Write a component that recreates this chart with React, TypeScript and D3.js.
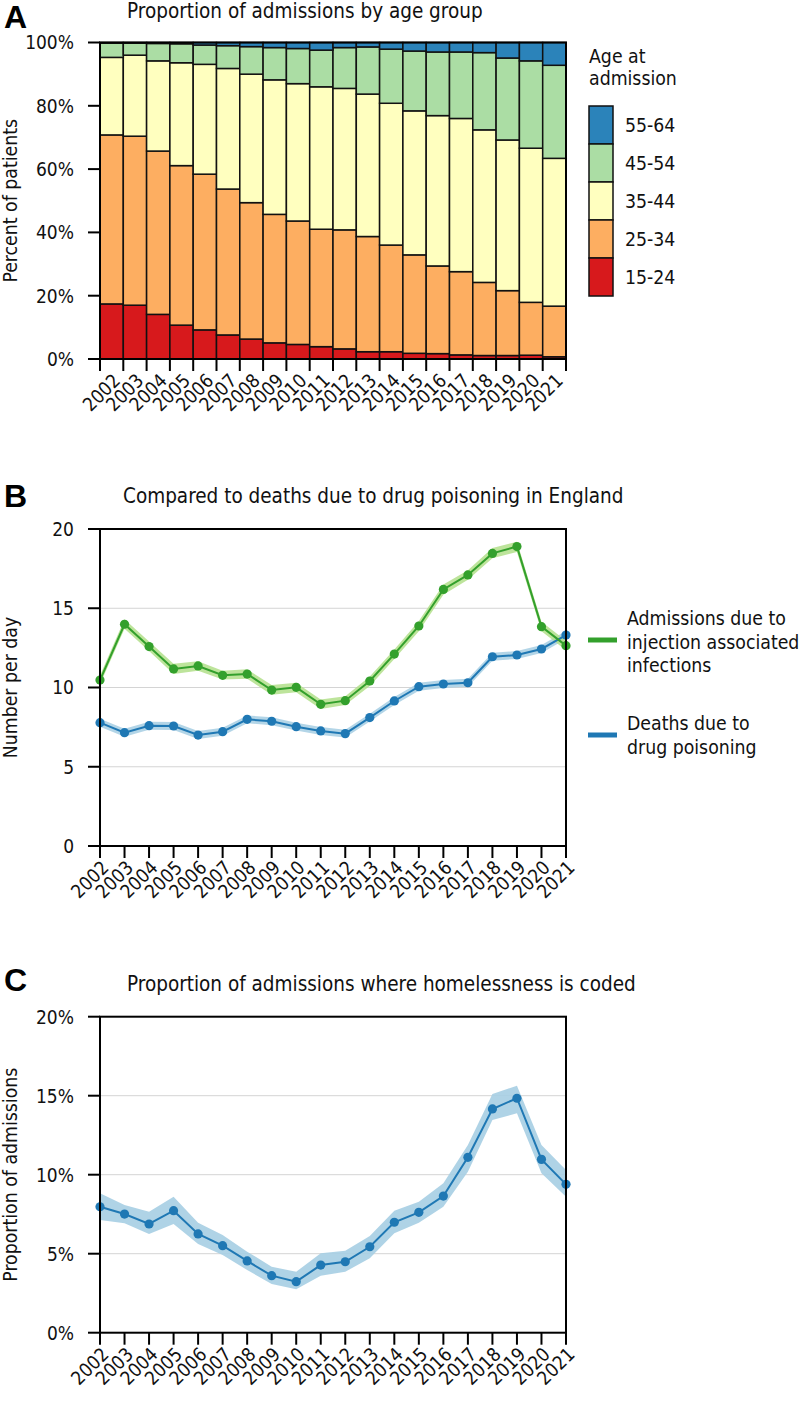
import React from "react";
import * as d3 from "d3";

const years = ["2002","2003","2004","2005","2006","2007","2008","2009","2010","2011","2012","2013","2014","2015","2016","2017","2018","2019","2020","2021"];

// Panel A: percent of admissions per age group
const ageGroups = ["15-24","25-34","35-44","45-54","55-64"];
const age15_24 = [17.4,17.0,14.1,10.7,9.2,7.6,6.3,5.1,4.6,3.9,3.2,2.3,2.3,1.8,1.7,1.3,1.1,1.1,1.2,0.7];
const age25_34 = [53.4,53.4,51.6,50.4,49.2,46.1,43.1,40.6,39.0,37.1,37.6,36.4,33.7,31.1,27.7,26.3,23.1,20.5,16.7,16.0];
const age35_44 = [24.5,25.6,28.5,32.5,34.7,38.1,40.6,42.5,43.4,45.0,44.7,45.0,44.8,45.5,47.5,48.4,48.2,47.6,48.7,46.7];
const age45_54 = [4.5,3.8,5.5,6.0,6.1,7.2,8.7,10.2,11.1,11.6,12.9,14.9,17.1,18.9,20.1,21.0,24.4,25.9,27.6,29.4];
const age55_64 = [0.2,0.2,0.3,0.4,0.8,1.0,1.3,1.6,1.9,2.4,1.6,1.4,2.1,2.7,3.0,3.0,3.2,4.9,5.8,7.2];
const ageColors = ["#d7191c","#fdae61","#ffffbf","#abdda4","#2b83ba"];
const pctTicks = [0,20,40,60,80,100];

// Panel B: number per day
const admissions = [10.47,13.99,12.58,11.17,11.36,10.77,10.85,9.84,10.01,8.94,9.17,10.41,12.11,13.88,16.19,17.1,18.46,18.89,13.84,12.64];
const admissionsLo = [10.2,13.7,12.3,10.85,11.05,10.5,10.55,9.55,9.7,8.65,8.9,10.1,11.8,13.55,15.85,16.8,18.15,18.55,13.55,12.35];
const admissionsHi = [10.75,14.3,12.9,11.5,11.65,11.05,11.15,10.15,10.3,9.25,9.45,10.7,12.4,14.2,16.5,17.4,18.8,19.2,14.15,12.95];
const deaths = [7.78,7.15,7.59,7.57,7.0,7.21,7.99,7.87,7.53,7.26,7.09,8.10,9.15,10.05,10.22,10.3,11.94,12.05,12.43,13.31];
const deathsLo = [7.53,6.9,7.34,7.32,6.75,6.96,7.74,7.62,7.28,7.01,6.84,7.85,8.9,9.8,9.97,10.05,11.69,11.8,12.18,13.06];
const deathsHi = [8.03,7.4,7.84,7.82,7.25,7.46,8.24,8.12,7.78,7.51,7.34,8.35,9.4,10.3,10.47,10.55,12.19,12.3,12.68,13.56];
const bTicks = [0,5,10,15,20];

// Panel C: proportion homelessness coded (%)
const homeless = [7.97,7.51,6.88,7.72,6.25,5.51,4.54,3.61,3.23,4.28,4.49,5.44,6.99,7.62,8.65,11.1,14.16,14.84,10.97,9.39];
const homelessLo = [7.13,6.92,6.25,6.88,5.61,4.92,3.97,3.08,2.75,3.61,3.86,4.71,6.29,6.96,7.97,10.19,13.46,13.89,10.09,8.61];
const homelessHi = [8.82,8.08,7.66,8.61,6.96,6.18,5.13,4.18,3.86,5.03,5.19,6.12,7.72,8.29,9.46,11.88,15.1,15.63,11.88,10.3];
const cTicks = [0,5,10,15,20];

const FONT = "'DejaVu Sans Condensed', 'DejaVu Sans', Verdana, sans-serif";
const TS: any = { fontStretch: "condensed" };
const GREEN = "#33a02c";
const GREEN_L = "#b2df8a";
const BLUE = "#1f78b4";
const BLUE_L = "#a6cee3";

const X0 = 100;
const X1 = 566;
const TICK = 12;
const FS_TICK = 19;
const FS_TEXT = 19.3;
const FS_TITLE = 20.5;

function YAxis({ scale, ticks, fmt, x0, x1, grid }: any) {
  return (
    <g>
      {grid && ticks.map((t: number) => (
        <line key={"g" + t} x1={x0} x2={x1} y1={scale(t)} y2={scale(t)} stroke="#d4d4d4" strokeWidth={1} />
      ))}
      {ticks.map((t: number) => (
        <g key={t}>
          <line x1={x0 - TICK} x2={x0} y1={scale(t)} y2={scale(t)} stroke="#000" strokeWidth={2} />
          <text x={x0 - 26} y={scale(t)} dy="0.36em" textAnchor="end" fontSize={FS_TICK} fontFamily={FONT} style={TS} fill="#111">{fmt(t)}</text>
        </g>
      ))}
    </g>
  );
}

function XLabels({ positions, labels, yBase, tickPositions }: any) {
  return (
    <g>
      {tickPositions.map((x: number, i: number) => (
        <line key={"t" + i} x1={x} x2={x} y1={yBase} y2={yBase + TICK} stroke="#000" strokeWidth={2} />
      ))}
      {labels.map((l: string, i: number) => (
        <text key={l} transform={`translate(${positions[i] + 5},${yBase + 18}) rotate(-45)`} textAnchor="end" dy="0.36em" fontSize={FS_TICK} fontFamily={FONT} style={TS} fill="#111">{l}</text>
      ))}
    </g>
  );
}

function Frame({ top, bottom }: any) {
  return (
    <rect x={X0} y={top} width={X1 - X0} height={bottom - top} fill="none" stroke="#000" strokeWidth={2} />
  );
}

function T(props: any) {
  return <text fontSize={FS_TEXT} fontFamily={FONT} style={TS} fill="#111" {...props} />;
}

export default function App() {
  // Panel A
  const aTop = 42.5, aBot = 359;
  const xA = d3.scaleBand().domain(years).range([X0, X1]).padding(0);
  const yA = d3.scaleLinear().domain([0, 100]).range([aBot, aTop]);
  const seriesArr = [age15_24, age25_34, age35_44, age45_54, age55_64];
  const rows = years.map((y, i) => {
    const r: any = { year: y };
    ageGroups.forEach((g, k) => (r[g] = seriesArr[k][i]));
    return r;
  });
  const stacked = d3.stack().keys(ageGroups)(rows as any);
  const aTickPos = [...years.map((y) => xA(y) as number), X1];

  // Panel B
  const bTop = 529, bBot = 846;
  const xP = d3.scalePoint().domain(years).range([X0, X1]);
  const yB = d3.scaleLinear().domain([0, 20]).range([bBot, bTop]);
  const lineB = d3.line<number>().x((_, i) => xP(years[i]) as number).y((d) => yB(d));
  const areaB = (lo: number[], hi: number[]) =>
    d3.area<number>().x((_, i) => xP(years[i]) as number).y0((_, i) => yB(lo[i])).y1((_, i) => yB(hi[i]))(lo) as string;

  // Panel C
  const cTop = 1016.7, cBot = 1332.7;
  const yC = d3.scaleLinear().domain([0, 20]).range([cBot, cTop]);
  const lineC = d3.line<number>().x((_, i) => xP(years[i]) as number).y((d) => yC(d));
  const areaC = d3.area<number>().x((_, i) => xP(years[i]) as number).y0((_, i) => yC(homelessLo[i])).y1((_, i) => yC(homelessHi[i]));

  const pointPos = years.map((y) => xP(y) as number);
  const legendBoxY = [106, 144, 182, 220, 258];
  const bold = "Liberation Sans, Arial, sans-serif";

  return (
    <svg width={800} height={1407} style={{ position: "absolute", left: 0, top: 0, background: "#fff" }}>
      <rect x={0} y={0} width={800} height={1407} fill="#fff" />
      {/* ---------- Panel A ---------- */}
      <text x={4} y={28} fontSize={32} fontWeight="bold" fontFamily={bold}>A</text>
      <T x={127} y={18} fontSize={FS_TITLE}>Proportion of admissions by age group</T>
      <T transform={`translate(17,${(aTop + aBot) / 2}) rotate(-90)`} textAnchor="middle">Percent of patients</T>
      {stacked.map((s, k) => (
        <g key={k}>
          {s.map((d, i) => (
            <rect key={i} x={xA(years[i])} y={yA(d[1])} width={xA.bandwidth()} height={Math.max(0, yA(d[0]) - yA(d[1]))} fill={ageColors[k]} stroke="#111" strokeWidth={1.5} />
          ))}
        </g>
      ))}
      <Frame top={aTop} bottom={aBot} />
      <YAxis scale={yA} ticks={pctTicks} fmt={(t: number) => `${t}%`} x0={X0} x1={X1} grid={false} />
      <XLabels positions={years.map((y) => (xA(y) as number) + xA.bandwidth() / 2)} labels={years} yBase={aBot} tickPositions={aTickPos} />
      <T x={589} y={63}>Age at</T>
      <T x={589} y={85}>admission</T>
      {ageGroups.slice().reverse().map((g, j) => {
        const k = ageGroups.length - 1 - j;
        return (
          <g key={g}>
            <rect x={589} y={legendBoxY[j]} width={24} height={38} fill={ageColors[k]} stroke="#111" strokeWidth={1.5} />
            <T x={625} y={legendBoxY[j] + 19} dy="0.36em">{g}</T>
          </g>
        );
      })}

      {/* ---------- Panel B ---------- */}
      <text x={4} y={507} fontSize={32} fontWeight="bold" fontFamily={bold}>B</text>
      <T x={123} y={503} fontSize={FS_TITLE}>Compared to deaths due to drug poisoning in England</T>
      <T transform={`translate(17,${(bTop + bBot) / 2}) rotate(-90)`} textAnchor="middle">Number per day</T>
      <YAxis scale={yB} ticks={bTicks} fmt={(t: number) => `${t}`} x0={X0} x1={X1} grid={true} />
      <path d={areaB(deathsLo, deathsHi)} fill={BLUE_L} opacity={0.85} />
      <path d={areaB(admissionsLo, admissionsHi)} fill={GREEN_L} opacity={0.85} />
      <path d={lineB(deaths) as string} fill="none" stroke={BLUE} strokeWidth={2} />
      {deaths.map((v, i) => <circle key={"d" + i} cx={pointPos[i]} cy={yB(v)} r={4.6} fill={BLUE} />)}
      <path d={lineB(admissions) as string} fill="none" stroke={GREEN} strokeWidth={2} />
      {admissions.map((v, i) => <circle key={"a" + i} cx={pointPos[i]} cy={yB(v)} r={4.6} fill={GREEN} />)}
      <Frame top={bTop} bottom={bBot} />
      <XLabels positions={pointPos} labels={years} yBase={bBot} tickPositions={pointPos} />
      <line x1={588} x2={617} y1={640} y2={640} stroke={GREEN} strokeWidth={5} />
      <T x={627} y={618} dy="0.36em">Admissions due to</T>
      <T x={627} y={642} dy="0.36em">injection associated</T>
      <T x={627} y={665} dy="0.36em">infections</T>
      <line x1={588} x2={617} y1={735} y2={735} stroke={BLUE} strokeWidth={5} />
      <T x={627} y={723} dy="0.36em">Deaths due to</T>
      <T x={627} y={747} dy="0.36em">drug poisoning</T>

      {/* ---------- Panel C ---------- */}
      <text x={4} y={991} fontSize={32} fontWeight="bold" fontFamily={bold}>C</text>
      <T x={127} y={991} fontSize={FS_TITLE}>Proportion of admissions where homelessness is coded</T>
      <T transform={`translate(17,${(cTop + cBot) / 2}) rotate(-90)`} textAnchor="middle">Proportion of admissions</T>
      <YAxis scale={yC} ticks={cTicks} fmt={(t: number) => `${t}%`} x0={X0} x1={X1} grid={true} />
      <path d={areaC(homeless) as string} fill={BLUE_L} opacity={0.9} />
      <path d={lineC(homeless) as string} fill="none" stroke={BLUE} strokeWidth={2} />
      {homeless.map((v, i) => <circle key={"h" + i} cx={pointPos[i]} cy={yC(v)} r={4.6} fill={BLUE} />)}
      <Frame top={cTop} bottom={cBot} />
      <XLabels positions={pointPos} labels={years} yBase={cBot} tickPositions={pointPos} />
    </svg>
  );
}
